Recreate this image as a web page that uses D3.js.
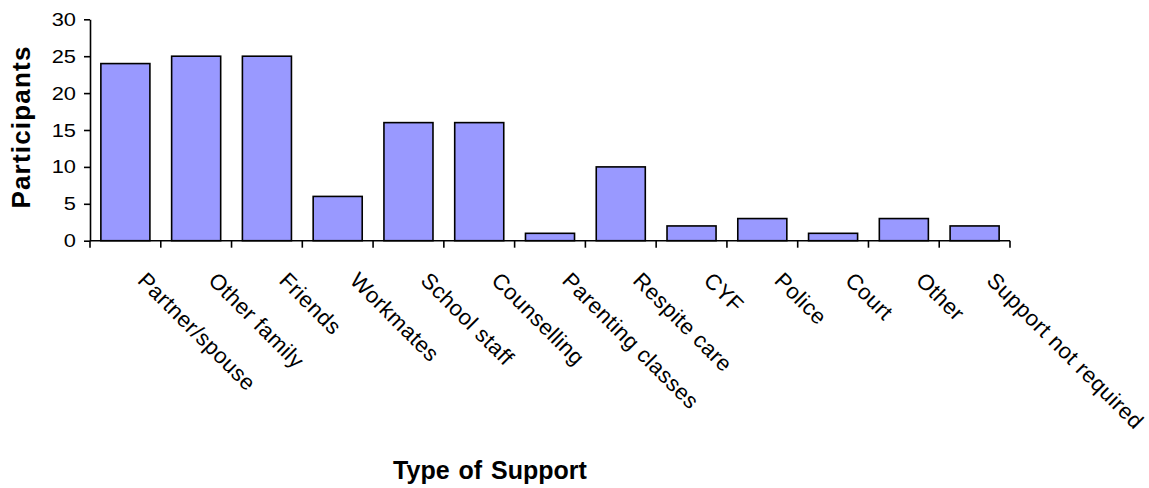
<!DOCTYPE html>
<html>
<head>
<meta charset="utf-8">
<script src="https://cdn.jsdelivr.net/npm/d3@7"></script>
<style>
  html, body { margin: 0; padding: 0; background: #fff; }
  svg { display: block; }
  text { font-family: "Liberation Sans", Arial, sans-serif; fill: #000; }
</style>
</head>
<body>
<div id="chart"></div>
<script>
// Types of support used by participants
const categories = [
  "Partner/spouse", "Other family", "Friends", "Workmates", "School staff",
  "Counselling", "Parenting classes", "Respite care", "CYF", "Police",
  "Court", "Other", "Support not required"
];
const participants = [24, 25, 25, 6, 16, 16, 1, 10, 2, 3, 1, 3, 2];
const yTicks = [0, 5, 10, 15, 20, 25, 30];
const yTitle = "Participants";
const xTitle = "Type of Support";

const W = 1149, H = 488;
const plot = { left: 90, right: 1010, top: 19.3, bottom: 240.7 };

const svg = d3.select("#chart").append("svg")
  .attr("width", W).attr("height", H);

const x = d3.scaleBand()
  .domain(categories)
  .range([plot.left, plot.right])
  .paddingInner(0.307)
  .paddingOuter(0.1535);

const y = d3.scaleLinear()
  .domain([0, 30])
  .range([plot.bottom, plot.top]);

// Bars
svg.append("g")
  .selectAll("rect")
  .data(categories)
  .join("rect")
  .attr("x", d => x(d))
  .attr("y", (d, i) => y(participants[i]))
  .attr("width", x.bandwidth())
  .attr("height", (d, i) => y(0) - y(participants[i]))
  .attr("fill", "#9999FF")
  .attr("stroke", "#000")
  .attr("stroke-width", 1.6);

// Y axis
const yAxis = svg.append("g")
  .attr("transform", `translate(${plot.left},0)`)
  .call(d3.axisLeft(y).tickValues(yTicks).tickSize(6).tickPadding(8).tickSizeOuter(0));
yAxis.select(".domain").attr("stroke-width", 1.6);
yAxis.selectAll(".tick line").attr("stroke-width", 1.6);
yAxis.selectAll(".tick text")
  .attr("font-size", 19)
  .attr("font-family", "Liberation Sans, Arial, sans-serif")
  .attr("transform", "scale(1.15,1)")
  .attr("x", -14 / 1.15);

// X axis line with tick marks on the band boundaries
const step = x.step();
const boundaries = d3.range(categories.length + 1).map(i => plot.left + i * step);
const xAxis = svg.append("g");
xAxis.append("line")
  .attr("x1", plot.left).attr("x2", plot.right)
  .attr("y1", y(0)).attr("y2", y(0))
  .attr("stroke", "#000").attr("stroke-width", 1.6);
xAxis.selectAll("line.tk")
  .data(boundaries)
  .join("line")
  .attr("class", "tk")
  .attr("x1", d => d).attr("x2", d => d)
  .attr("y1", y(0)).attr("y2", y(0) + 7)
  .attr("stroke", "#000").attr("stroke-width", 1.6);

// Category labels, rotated 45 degrees, starting just right of each bar's centre
const center = c => x(c) + x.bandwidth() / 2;
xAxis.selectAll("text.cat")
  .data(categories)
  .join("text")
  .attr("class", "cat")
  .attr("font-size", 22)
  .attr("letter-spacing", 0.5)
  .attr("text-anchor", "start")
  .attr("transform", d => `translate(${center(d) + 11},${y(0) + 41}) rotate(45)`)
  .text(d => d);

// Axis titles
svg.append("text")
  .attr("transform", `translate(30,${(42 + 212) / 2}) rotate(-90)`)
  .attr("text-anchor", "middle")
  .attr("font-weight", "bold")
  .attr("font-size", 26)
  .attr("letter-spacing", 1.2)
  .text(yTitle);

svg.append("text")
  .attr("x", 490)
  .attr("y", 479)
  .attr("text-anchor", "middle")
  .attr("font-weight", "bold")
  .attr("font-size", 25)
  .attr("word-spacing", 2)
  .text(xTitle);
</script>
</body>
</html>
